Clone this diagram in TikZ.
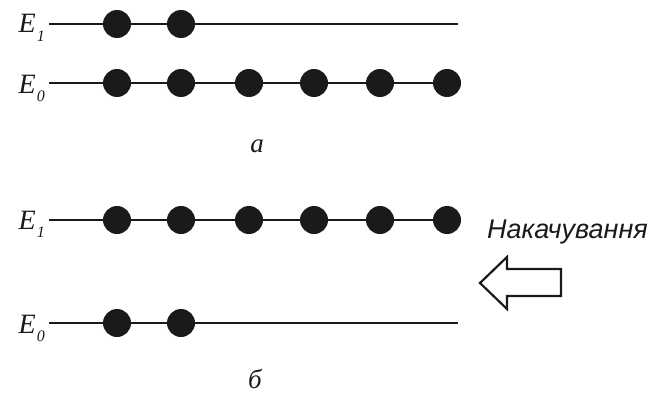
\documentclass[tikz,border=0pt]{standalone}
\usepackage{fontspec}
\setmainfont{Liberation Serif}
\newfontfamily\pumpfont{Liberation Sans}
\usetikzlibrary{positioning}
\definecolor{ink}{HTML}{1A1A1A}
\newcommand{\lev}[1]{\textit{E}\kern1pt\raisebox{-0.3em}{\fontsize{16}{16}\selectfont\itshape #1}}
\tikzset{
  level/.style={line width=2.2pt, draw=ink},
  elabel/.style={anchor=base east, inner ysep=1pt, inner xsep=4pt, font=\fontsize{28}{30}\selectfont, text=ink},
  dot/.style={circle, fill=ink, draw=none, inner sep=0pt, minimum size=28pt},
  panelcap/.style={anchor=base, font=\fontsize{27}{28}\selectfont\itshape, text=ink},
  pump/.style={line width=2.2pt, draw=ink, fill=white, line join=miter},
}

\begin{document}
\begin{tikzpicture}[x=1pt, y=-1pt]
    \useasboundingbox (0,0) rectangle (655,396);
    % a: equilibrium populations
    \node[elabel] (a1) at (49,33) {\lev{1}};
    \node[elabel] (a0) at (49,93) {\lev{0}};
    \coordinate (a1end) at (458,24);
    \coordinate (a0end) at (458,83);
    \draw[level] (a1.east|-a1end) -- (a1end);
    \draw[level] (a0.east|-a0end) -- (a0end);
    \foreach \x [count=\i] in {117,181} \node[dot] (a1d\i) at (\x,24) {};
    \foreach \x [count=\i] in {117,181,249,314,380,447} \node[dot] (a0d\i) at (\x,83) {};
    \node[panelcap] (capa) at (257,152) {а};
    % б: inverted populations
    \node[elabel] (b1) at (49,229) {\lev{1}};
    \node[elabel] (b0) at (49,333) {\lev{0}};
    \coordinate (b1end) at (458,220);
    \coordinate (b0end) at (458,323);
    \draw[level] (b1.east|-b1end) -- (b1end);
    \draw[level] (b0.east|-b0end) -- (b0end);
    \foreach \x [count=\i] in {117,181,249,314,380,447} \node[dot] (b1d\i) at (\x,220) {};
    \foreach \x [count=\i] in {117,181} \node[dot] (b0d\i) at (\x,323) {};
    \node[panelcap] (capb) at (255,388) {б};
    % pumping
    \node[anchor=base west, inner sep=0pt, font=\pumpfont\fontsize{27}{28}\selectfont\itshape, text=ink] (pumptxt) at (487,238) {Накачування};
    \draw[pump] (480,283) -- (507,257) -- (507,269) -- (561,269) -- (561,296) -- (507,296) -- (507,309) -- cycle;
\end{tikzpicture}
\end{document}
